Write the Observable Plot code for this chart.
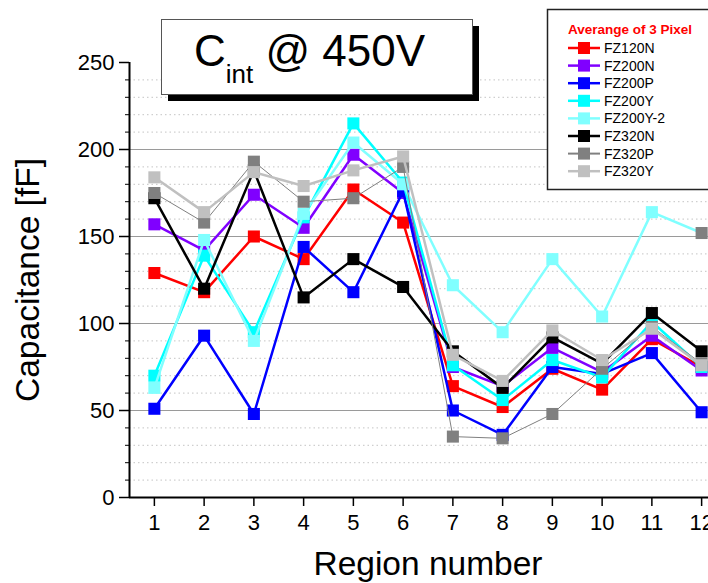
<!DOCTYPE html>
<html><head><meta charset="utf-8">
<script src="https://cdn.jsdelivr.net/npm/d3@7"></script>
<script src="https://cdn.jsdelivr.net/npm/@observablehq/plot@0.6"></script>
<style>
html,body{margin:0;padding:0;background:#fff;overflow:hidden;}
#wrap{position:relative;width:708px;height:583px;overflow:hidden;font-family:"Liberation Sans",Arial,sans-serif;}
#wrap > svg{position:absolute;left:0;top:0;}
</style></head><body><div id="wrap"></div>
<script>
// ---- data ----
const regions = [1,2,3,4,5,6,7,8,9,10,11,12];
const seriesNames = ["FZ120N","FZ200N","FZ200P","FZ200Y","FZ200Y-2","FZ320N","FZ320P","FZ320Y"];
const seriesColors = ["#ff0000","#8000ff","#0000ff","#00ffff","#80ffff","#000000","#808080","#c0c0c0"];
const FZ120N   = [129,118,150,137,177,158, 64, 52, 74, 62, 91, 75];
const FZ200N   = [157,142,174,155,197,175, 75, 64, 86, 72, 93, 73];
const FZ200P   = [ 51, 93, 48,144,118,176, 50, 36, 75, 71, 83, 49];
const FZ200Y   = [ 70,139, 95,161,215,181, 76, 56, 79, 69,101, 75];
const FZ200Y_2 = [ 63,148, 90,163,204,180,122, 95,137,104,164,152];
const FZ320N   = [172,120,188,115,137,121, 84, 63, 92, 77,106, 84];
const FZ320P   = [175,158,193,170,172,190, 35, 34, 48, 74, 98, 77];
const FZ320Y   = [184,164,187,179,188,196, 82, 67, 96, 79, 97, 76];
const seriesValues = [FZ120N,FZ200N,FZ200P,FZ200Y,FZ200Y_2,FZ320N,FZ320P,FZ320Y];
const yTicks = [0,50,100,150,200,250];
const legendTitle = "Averange of 3 Pixel";
const titleMain = "C", titleSub = "int", titleRest = " @ 450V";
const xLabel = "Region number";
const yLabel = "Capacitance [fF]";

// ---- build table ----
const table = seriesNames.flatMap((s, i) =>
  regions.map((r, j) => ({series: s, region: r, value: seriesValues[i][j]})));

const lineWidth = s => s === "FZ320P" ? 1 : 2.5;
const font = '"Liberation Sans", Arial, sans-serif';

const minorGrid = d3.range(10, 250, 10).filter(v => v % 50 !== 0);
const majorGrid = [50, 100, 150, 200];

const seriesMarks = seriesNames.flatMap((s, i) => {
  const rows = table.filter(d => d.series === s);
  return [
    Plot.line(rows, {x: "region", y: "value", stroke: seriesColors[i], strokeWidth: lineWidth(s)}),
    Plot.dot(rows, {x: "region", y: "value", symbol: "square", r: 6.8, stroke: null,
      fill: d => (d.series === "FZ200Y-2" && d.region === 12) ? "#808080" : seriesColors[i]})
  ];
});

const chart = Plot.plot({
  width: 708, height: 583,
  marginLeft: 129, marginRight: -18, marginTop: 62, marginBottom: 86,
  x: {domain: [0.5, 12.5], range: [129, 726]},
  y: {domain: [0, 250], range: [497, 62]},
  style: {fontFamily: font, fontSize: "22px", color: "#000", background: "transparent", overflow: "visible"},
  marks: [
    Plot.ruleY(minorGrid, {stroke: "#c4c4c4", strokeDasharray: "1.5,3"}),
    Plot.ruleY(majorGrid, {stroke: "#9a9a9a", strokeWidth: 1.2}),
    ...seriesMarks,
    Plot.axisY({ticks: d3.range(0, 251, 10), tickSize: 4, tickFormat: () => "", label: null, stroke: "#000"}),
    Plot.axisY({ticks: yTicks, tickSize: 10, tickPadding: 5, fontSize: 22, label: null, stroke: "#000", strokeWidth: 1.5}),
    Plot.axisX({ticks: regions, tickSize: 9, tickPadding: 8, fontSize: 22, label: null, stroke: "#000", strokeWidth: 1.5}),
    Plot.ruleX([0.5], {stroke: "#000", strokeWidth: 2}),
    Plot.ruleY([0], {stroke: "#000", strokeWidth: 2}),
    Plot.text([xLabel], {frameAnchor: "bottom", textAnchor: "middle", lineAnchor: "middle", dy: 67, fontSize: 33.5, fill: "#000"}),
    Plot.text([yLabel], {frameAnchor: "left", textAnchor: "middle", lineAnchor: "middle", rotate: -90, dx: -101, fontSize: 33.5, fill: "#000"})
  ]
});
document.getElementById("wrap").appendChild(chart);

// ---- overlay: title box and legend ----
const ov = d3.select("#wrap").append("svg")
  .attr("width", 708).attr("height", 583)
  .style("pointer-events", "none")
  .attr("font-family", font);

// title box
ov.append("rect").attr("x", 168).attr("y", 26).attr("width", 311).attr("height", 75).attr("fill", "#000");
ov.append("rect").attr("x", 161.5).attr("y", 19.5).attr("width", 311).attr("height", 75)
  .attr("fill", "#fff").attr("stroke", "#555").attr("stroke-width", 1);
const tt = ov.append("text").attr("x", 194).attr("y", 66).attr("font-size", 44).attr("fill", "#000");
tt.append("tspan").text(titleMain);
tt.append("tspan").attr("font-size", 26).attr("dy", 17).text(titleSub);
tt.append("tspan").attr("font-size", 44).attr("dy", -17).attr("xml:space", "preserve").text(titleRest);

// legend
ov.append("rect").attr("x", 547.5).attr("y", 9.5).attr("width", 175).attr("height", 180)
  .attr("fill", "#fff").attr("stroke", "#222").attr("stroke-width", 1.5);
ov.append("text").attr("x", 568).attr("y", 34).attr("font-size", 13.5).attr("font-weight", "bold")
  .attr("fill", "#ff0000").text(legendTitle);
seriesNames.forEach((s, i) => {
  const cy = 48 + i * 17.6;
  ov.append("line").attr("x1", 568).attr("x2", 600).attr("y1", cy).attr("y2", cy)
    .attr("stroke", seriesColors[i]).attr("stroke-width", s === "FZ320P" ? 2 : 2.5);
  ov.append("rect").attr("x", 578).attr("y", cy - 6).attr("width", 12).attr("height", 12)
    .attr("fill", seriesColors[i]);
  ov.append("text").attr("x", 604).attr("y", cy + 5).attr("font-size", 14).attr("fill", "#000").text(s);
});
</script></body></html>
